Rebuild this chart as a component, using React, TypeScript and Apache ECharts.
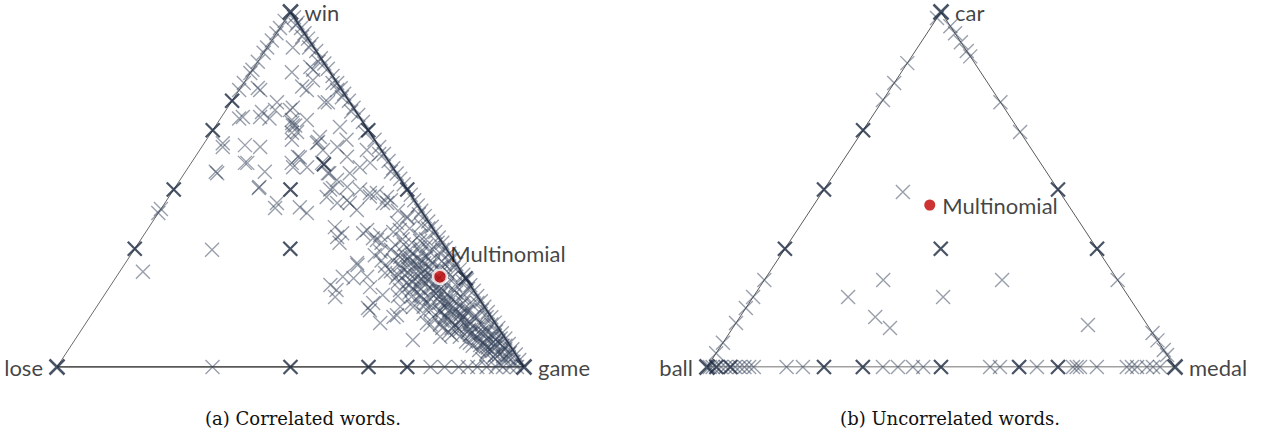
import React, { useEffect, useRef } from "react";
import * as echarts from "echarts";

// ---------- data: barycentric proportions ----------
// Left simplex: [p(win), p(game)], p(lose) = 1 - p(win) - p(game)
const leftVertexNames = ["lose", "win", "game"];
const leftVertices: number[][] = [[0, 0], [1, 0], [0, 1]];
const leftMultinomial: number[] = [0.254, 0.693];

const leftDark: number[][] = [
  [0.333, 0], [0.5, 0], [0.667, 0], [0.75, 0],
  [0, 0.5], [0, 0.667], [0, 0.75],
  [0.333, 0.333], [0.5, 0.25], [0.667, 0.333], [0.5, 0.5], [0.571, 0.286], [0.25, 0.75],
];

const leftEdgeLoseWin: number[][] = [
  [0.434, 0], [0.445, 0], [0.78, 0], [0.8, 0], [0.837, 0], [0.86, 0], [0.885, 0],
  [0.9, 0], [0.92, 0], [0.94, 0], [0.955, 0], [0.975, 0], [0.828, 0],
];

const leftEdgeLoseGame: number[][] = [
  [0, 0.333], [0, 0.8], [0, 0.83], [0, 0.86], [0, 0.88], [0, 0.9], [0, 0.92],
  [0, 0.94], [0, 0.955], [0, 0.97], [0, 0.985],
];

const leftEdgeWinGame: number[][] = [
  [0.985, 0.015], [0.97, 0.03], [0.955, 0.045], [0.94, 0.06], [0.925, 0.075], [0.91, 0.09],
  [0.89, 0.11], [0.87, 0.13], [0.855, 0.145], [0.84, 0.16], [0.82, 0.18], [0.8, 0.2],
  [0.785, 0.215], [0.77, 0.23], [0.75, 0.25], [0.73, 0.27], [0.71, 0.29], [0.69, 0.31],
  [0.64, 0.36], [0.62, 0.38], [0.6, 0.4], [0.58, 0.42], [0.56, 0.44], [0.545, 0.455],
  [0.53, 0.47], [0.515, 0.485], [0.485, 0.515], [0.47, 0.53], [0.455, 0.545], [0.44, 0.56],
  [0.425, 0.575], [0.41, 0.59], [0.395, 0.605], [0.38, 0.62], [0.365, 0.635], [0.35, 0.65],
  [0.335, 0.665], [0.32, 0.68], [0.305, 0.695], [0.29, 0.71], [0.275, 0.725], [0.26, 0.74],
  [0.245, 0.755], [0.23, 0.77], [0.215, 0.785], [0.2, 0.8], [0.185, 0.815], [0.17, 0.83],
  [0.155, 0.845], [0.14, 0.86], [0.125, 0.875], [0.11, 0.89], [0.095, 0.905], [0.08, 0.92],
  [0.065, 0.935], [0.05, 0.95], [0.035, 0.965], [0.02, 0.98],
  [0.9, 0.09], [0.86, 0.13], [0.8, 0.19], [0.76, 0.23], [0.72, 0.27], [0.66, 0.33],
  [0.6, 0.39], [0.55, 0.44], [0.43, 0.56], [0.39, 0.6], [0.35, 0.64], [0.33, 0.66],
  [0.3, 0.69], [0.28, 0.71], [0.24, 0.75], [0.22, 0.77], [0.18, 0.81], [0.16, 0.83],
  [0.14, 0.85], [0.12, 0.87], [0.1, 0.89], [0.08, 0.91], [0.06, 0.93], [0.04, 0.95],
];

const leftInterior: number[][] = [
  [0.963, 0.03], [0.9, 0.055], [0.93, 0.06], [0.83, 0.088], [0.845, 0.12], [0.79, 0.13],
  [0.786, 0.037], [0.746, 0.2], [0.73, 0.14], [0.724, 0.105], [0.718, 0.08], [0.704, 0.046],
  [0.687, 0.16], [0.68, 0.17], [0.662, 0.183], [0.64, 0.183], [0.62, 0.045], [0.62, 0.125],
  [0.634, 0.242], [0.575, 0.115], [0.546, 0.07], [0.55, 0.17], [0.575, 0.215], [0.59, 0.225],
  [0.575, 0.28], [0.546, 0.31], [0.504, 0.18], [0.5, 0.335],
  [0.33, 0.167], [0.448, 0.243], [0.434, 0.318], [0.394, 0.398], [0.366, 0.417], [0.231, 0.47],
  [0.197, 0.497], [0.268, 0.05],
  [0.287, 0.5], [0.25, 0.51], [0.225, 0.558], [0.166, 0.583], [0.16, 0.59], [0.124, 0.63],
  [0.146, 0.655], [0.203, 0.596], [0.315, 0.523], [0.363, 0.495], [0.372, 0.506], [0.386, 0.471],
  [0.386, 0.541], [0.423, 0.538], [0.462, 0.476], [0.442, 0.421], [0.47, 0.386], [0.504, 0.339],
  [0.49, 0.425], [0.31, 0.58],
  [0.377, 0.422], [0.35, 0.43], [0.377, 0.467], [0.358, 0.506], [0.293, 0.496], [0.254, 0.485],
  [0.217, 0.49], [0.254, 0.537], [0.18, 0.587], [0.141, 0.65], [0.217, 0.626], [0.169, 0.678],
  [0.124, 0.73], [0.104, 0.804], [0.085, 0.778], [0.068, 0.85], [0.076, 0.724], [0.406, 0.525],
  [0.42, 0.54], [0.44, 0.51], [0.462, 0.396], [0.48, 0.43], [0.47, 0.48],
  [0.837, 0.13], [0.78, 0.145], [0.808, 0.144], [0.746, 0.207], [0.78, 0.21], [0.724, 0.137],
  [0.746, 0.098], [0.78, 0.045], [0.7, 0.04], [0.704, 0.083], [0.7, 0.105], [0.696, 0.155],
  [0.68, 0.165], [0.66, 0.173], [0.696, 0.187], [0.648, 0.239], [0.676, 0.268], [0.64, 0.3],
  [0.62, 0.29], [0.611, 0.264], [0.631, 0.241], [0.592, 0.22], [0.563, 0.224], [0.563, 0.254],
  [0.546, 0.307], [0.527, 0.336], [0.546, 0.354], [0.563, 0.367], [0.575, 0.383], [0.592, 0.325],
  [0.611, 0.358], [0.507, 0.368], [0.5, 0.399], [0.49, 0.44], [0.479, 0.467], [0.462, 0.467],
  [0.63, 0.04], [0.625, 0.09], [0.55, 0.065], [0.575, 0.12], [0.507, 0.18], [0.462, 0.24],
  [0.45, 0.295], [0.479, 0.338], [0.462, 0.369],
];

const leftCluster: number[][] = [
  [0.344, 0.552], [0.35, 0.585], [0.34, 0.62],
  [0.315, 0.573], [0.32, 0.6], [0.31, 0.637], [0.318, 0.663],
  [0.287, 0.591], [0.29, 0.623], [0.283, 0.655], [0.288, 0.687],
  [0.259, 0.615], [0.262, 0.648], [0.255, 0.673], [0.26, 0.712],
  [0.231, 0.64], [0.235, 0.672], [0.228, 0.704], [0.232, 0.737],
  [0.203, 0.676], [0.207, 0.708], [0.2, 0.74], [0.205, 0.768],
  [0.175, 0.712], [0.178, 0.743], [0.172, 0.776], [0.176, 0.8],
  [0.146, 0.758], [0.15, 0.79], [0.143, 0.822],
  [0.118, 0.793], [0.121, 0.825], [0.115, 0.857],
  [0.09, 0.839], [0.093, 0.871], [0.088, 0.893],
  [0.062, 0.875], [0.065, 0.907], [0.06, 0.924],
  [0.034, 0.921], [0.036, 0.949],
  [0.3, 0.6], [0.27, 0.63], [0.24, 0.66], [0.245, 0.69], [0.27, 0.67], [0.3, 0.65],
  [0.33, 0.59], [0.28, 0.61], [0.25, 0.64], [0.22, 0.67], [0.19, 0.72], [0.16, 0.76],
  [0.13, 0.8], [0.1, 0.83], [0.07, 0.88], [0.045, 0.91], [0.19, 0.69], [0.16, 0.72],
  [0.135, 0.77], [0.105, 0.81], [0.215, 0.72], [0.185, 0.76], [0.155, 0.8], [0.125, 0.84],
  [0.095, 0.86], [0.078, 0.9], [0.05, 0.935], [0.025, 0.955], [0.36, 0.56], [0.33, 0.55],
  [0.3, 0.57], [0.27, 0.58], [0.24, 0.61], [0.21, 0.65], [0.18, 0.67], [0.15, 0.71],
  [0.12, 0.76], [0.09, 0.8], [0.06, 0.86],
  [0.355, 0.6], [0.345, 0.57], [0.335, 0.61], [0.325, 0.635], [0.312, 0.59], [0.305, 0.62],
  [0.298, 0.675], [0.292, 0.64], [0.278, 0.6], [0.275, 0.65], [0.268, 0.69], [0.265, 0.62],
  [0.252, 0.6], [0.248, 0.655], [0.242, 0.7], [0.238, 0.63], [0.226, 0.66], [0.222, 0.69],
  [0.218, 0.74], [0.212, 0.7], [0.198, 0.66], [0.195, 0.7], [0.19, 0.75], [0.182, 0.73],
  [0.17, 0.7], [0.168, 0.75], [0.165, 0.79], [0.158, 0.74], [0.148, 0.77], [0.14, 0.8],
  [0.138, 0.74], [0.13, 0.78], [0.128, 0.82], [0.112, 0.8], [0.108, 0.84], [0.1, 0.86],
  [0.098, 0.79], [0.085, 0.82], [0.082, 0.86], [0.08, 0.88], [0.072, 0.84], [0.068, 0.9],
  [0.058, 0.89], [0.055, 0.91], [0.048, 0.88], [0.042, 0.93], [0.03, 0.94], [0.028, 0.92],
  [0.02, 0.95], [0.015, 0.97], [0.012, 0.94], [0.022, 0.9], [0.038, 0.9], [0.11, 0.77],
  [0.12, 0.74], [0.2, 0.63], [0.17, 0.65], [0.35, 0.52], [0.325, 0.53], [0.3, 0.545],
  [0.285, 0.56], [0.265, 0.57], [0.38, 0.53], [0.39, 0.56], [0.37, 0.59], [0.4, 0.58],
  [0.36, 0.61],
  [0.31, 0.6], [0.295, 0.61], [0.285, 0.63], [0.275, 0.64], [0.265, 0.66], [0.255, 0.66],
  [0.245, 0.67], [0.235, 0.69], [0.225, 0.7], [0.215, 0.71], [0.205, 0.72], [0.195, 0.73],
  [0.185, 0.74], [0.175, 0.75], [0.165, 0.77], [0.155, 0.78], [0.145, 0.79], [0.135, 0.8],
  [0.125, 0.81], [0.115, 0.82], [0.105, 0.83], [0.095, 0.84], [0.085, 0.85], [0.075, 0.87],
  [0.065, 0.88], [0.055, 0.895], [0.045, 0.9], [0.035, 0.93], [0.29, 0.66], [0.28, 0.68],
  [0.27, 0.7], [0.25, 0.72], [0.23, 0.72], [0.21, 0.75], [0.195, 0.77], [0.18, 0.78],
  [0.16, 0.8], [0.14, 0.83], [0.12, 0.85], [0.1, 0.87], [0.085, 0.89], [0.07, 0.91],
  [0.32, 0.62], [0.33, 0.64], [0.3, 0.63], [0.26, 0.6], [0.24, 0.64], [0.22, 0.65],
  [0.2, 0.68], [0.18, 0.7], [0.16, 0.74], [0.14, 0.76], [0.13, 0.76], [0.11, 0.79],
];

// Right simplex: [p(car), p(medal)], p(ball) = 1 - p(car) - p(medal)
const rightVertexNames = ["ball", "car", "medal"];
const rightVertices: number[][] = [[0, 0], [1, 0], [0, 1]];
const rightMultinomial: number[] = [0.456, 0.248];

const rightDark: number[][] = [
  [0.5, 0], [0.333, 0], [0.667, 0], [0.5, 0.5], [0.333, 0.667], [0.333, 0.333],
  [0, 0.25], [0, 0.333], [0, 0.5], [0, 0.667], [0, 0.75], [0, 0.02], [0, 0.05],
];

const rightGray: number[][] = [
  [0.752, 0], [0.8, 0], [0.856, 0], [0.983, 0], [0.245, 0], [0.197, 0], [0.166, 0],
  [0.124, 0], [0.068, 0], [0.039, 0],
  [0.96, 0.04], [0.94, 0.06], [0.915, 0.085], [0.89, 0.11], [0.875, 0.125], [0.746, 0.254],
  [0.662, 0.338], [0.245, 0.755], [0.096, 0.904], [0.075, 0.925], [0.048, 0.952], [0.034, 0.966],
  [0.493, 0.172], [0.245, 0.254], [0.197, 0.203], [0.197, 0.406], [0.141, 0.289], [0.11, 0.336],
  [0.245, 0.508], [0.118, 0.755],
  [0, 0.006], [0, 0.012], [0, 0.03], [0, 0.04], [0, 0.06], [0, 0.07], [0, 0.08], [0, 0.09],
  [0, 0.1], [0, 0.17], [0, 0.205], [0, 0.376], [0, 0.408], [0, 0.44], [0, 0.462], [0, 0.605],
  [0, 0.626], [0, 0.705], [0, 0.782], [0, 0.79], [0, 0.797], [0, 0.833], [0, 0.897], [0, 0.908],
  [0, 0.919], [0, 0.94], [0, 0.953], [0, 0.968],
];

const captions = ["(a) Correlated words.", "(b) Uncorrelated words."];

// ---------- helpers ----------
const toXY = (p: number[]) => [p[1] + p[0] / 2, p[0]];
const CROSS = "path://M0,0L10,10M10,0L0,10";
const GRAY = "rgba(48,62,88,0.62)";
const DARK = "#1a2840";
const LABEL_FONT = "Lato, 'Open Sans', sans-serif";

function simplexSeries(
  idx: number,
  names: string[],
  verts: number[][],
  gray: number[][],
  dark: number[][],
  multi: number[],
  multiLabelOffset: number[],
  multiBorder: boolean
) {
  const v = verts.map(toXY);
  const edge = (a: number[], b: number[], color: string, width: number) => ({
    type: "line",
    xAxisIndex: idx,
    yAxisIndex: idx,
    data: [a, b],
    symbol: "none",
    silent: true,
    lineStyle: { color, width },
    z: 1,
  });
  const labelPos = ["left", "right", "right"];
  return [
    edge(v[0], v[1], idx === 0 ? "#6b6b6b" : "#5a5a5a", 1),
    edge(v[1], v[2], idx === 0 ? "#2a3040" : "#5a5a5a", idx === 0 ? 1.5 : 1),
    edge(v[0], v[2], idx === 0 ? "#222" : "#444", idx === 0 ? 1.5 : 1.2),
    {
      type: "scatter",
      xAxisIndex: idx,
      yAxisIndex: idx,
      silent: true,
      symbol: CROSS,
      symbolSize: 14,
      itemStyle: { color: "none", borderColor: GRAY, borderWidth: 1.4 },
      data: gray.map(toXY),
      z: 2,
    },
    {
      type: "scatter",
      xAxisIndex: idx,
      yAxisIndex: idx,
      silent: true,
      symbol: CROSS,
      symbolSize: 14,
      itemStyle: { color: "none", borderColor: DARK, borderWidth: 2.2 },
      data: dark.map(toXY),
      z: 3,
    },
    {
      type: "scatter",
      xAxisIndex: idx,
      yAxisIndex: idx,
      silent: true,
      symbol: CROSS,
      symbolSize: 15,
      itemStyle: { color: "none", borderColor: DARK, borderWidth: 2.5 },
      data: v.map((p, i) => ({
        value: p,
        name: names[i],
        label: {
          show: true,
          position: labelPos[i],
          distance: 4,
          formatter: names[i],
          color: "#111",
          fontSize: 22,
          fontFamily: LABEL_FONT,
        },
      })),
      z: 4,
    },
    {
      type: "scatter",
      xAxisIndex: idx,
      yAxisIndex: idx,
      silent: true,
      symbol: "circle",
      symbolSize: multiBorder ? 14 : 11,
      itemStyle: {
        color: "#c00000",
        borderColor: "#ffffff",
        borderWidth: multiBorder ? 2.5 : 0,
      },
      label: {
        show: true,
        position: "right",
        offset: multiLabelOffset,
        formatter: "Multinomial",
        color: "#111",
        fontSize: 22,
        fontFamily: LABEL_FONT,
      },
      data: [toXY(multi)],
      z: 5,
    },
  ];
}

export default function App() {
  const ref = useRef<HTMLDivElement>(null);
  useEffect(() => {
    if (!ref.current) return;
    const chart = echarts.init(ref.current, undefined, { renderer: "svg" });
    const axis = (i: number) => ({
      type: "value",
      gridIndex: i,
      min: 0,
      max: 1,
      show: false,
    });
    chart.setOption({
      animation: false,
      backgroundColor: "#ffffff",
      grid: [
        { left: 57, top: 12, width: 467, height: 355 },
        { left: 707, top: 12, width: 468, height: 355 },
      ],
      xAxis: [axis(0), axis(1)],
      yAxis: [axis(0), axis(1)],
      series: [
        ...simplexSeries(
          0,
          leftVertexNames,
          leftVertices,
          [...leftEdgeLoseWin, ...leftEdgeLoseGame, ...leftEdgeWinGame, ...leftInterior, ...leftCluster],
          leftDark,
          leftMultinomial,
          [-3, -23],
          true
        ),
        ...simplexSeries(
          1,
          rightVertexNames,
          rightVertices,
          rightGray,
          rightDark,
          rightMultinomial,
          [2, 0],
          false
        ),
      ],
      graphic: captions.map((t, i) => ({
        type: "text",
        x: i === 0 ? 303 : 950,
        y: 418,
        silent: true,
        style: {
          text: t,
          textAlign: "center",
          textVerticalAlign: "middle",
          font: "18px 'DejaVu Serif', serif",
          fill: "#111",
        },
      })),
    });
    return () => chart.dispose();
  }, []);
  return (
    <div
      ref={ref}
      style={{ position: "fixed", left: 0, top: 0, width: 1264, height: 438 }}
    />
  );
}
